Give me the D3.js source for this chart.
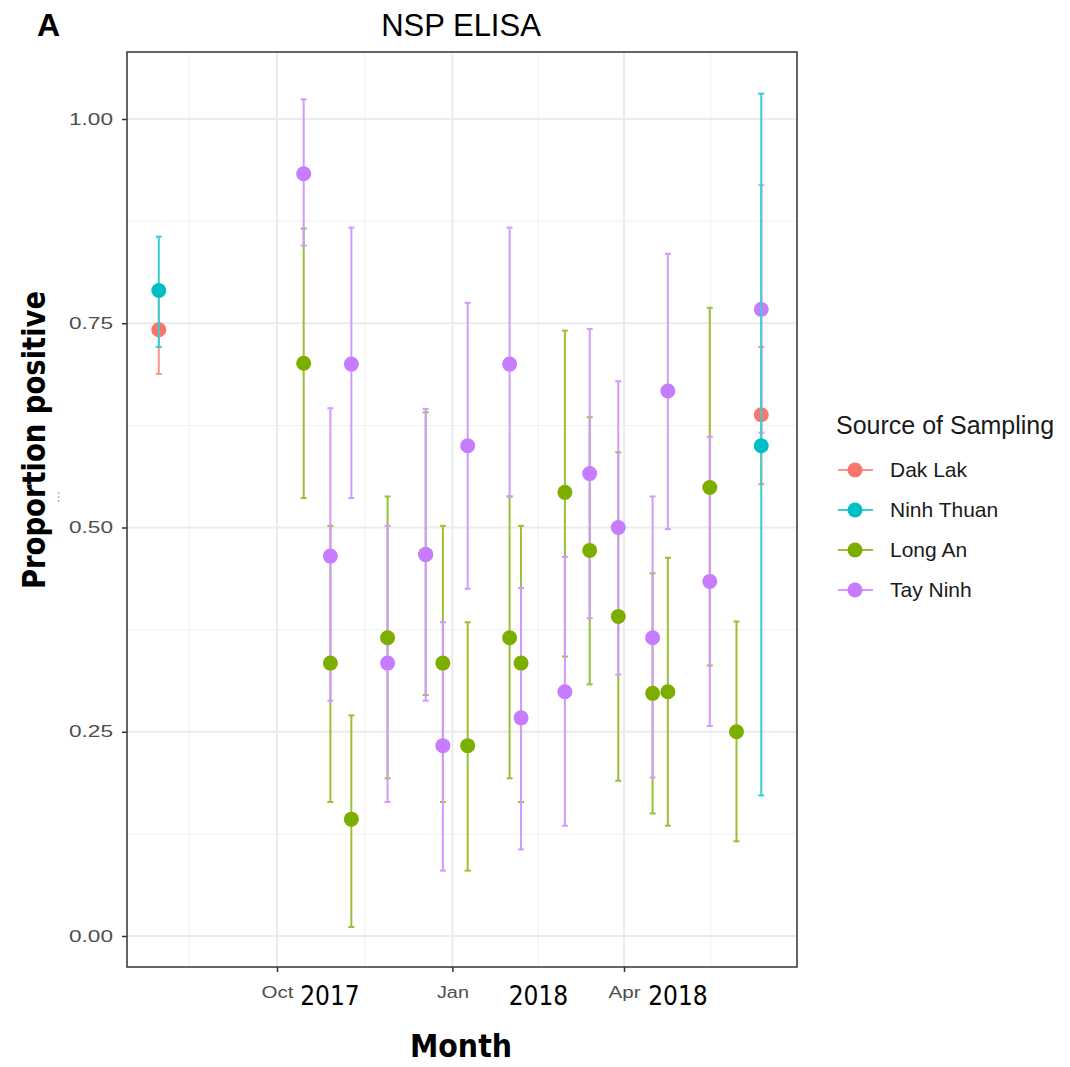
<!DOCTYPE html>
<html>
<head>
<meta charset="utf-8">
<script src="https://cdn.jsdelivr.net/npm/d3@7"></script>
<style>
  body { margin: 0; background: #fff; }
  text { font-family: "Liberation Sans", Arial, sans-serif; }
</style>
</head>
<body>
<div id="chart"></div>
<script>
// series names and colours (ggplot defaults)
var seriesNames = ["Dak Lak", "Ninh Thuan", "Long An", "Tay Ninh"];
var seriesColors = ["#F8766D", "#00BFC4", "#7CAE00", "#C77CFF"];

// Dak Lak
var dakLakDates = ["2017-07-31", "2018-06-12"];
var dakLakValues = [0.742, 0.638];
var dakLakLower = [0.688, 0.553];
var dakLakUpper = [0.79, 0.721];

// Ninh Thuan
var ninhThuanDates = ["2017-07-31", "2018-06-12"];
var ninhThuanValues = [0.790, 0.600];
var ninhThuanLower = [0.721, 0.172];
var ninhThuanUpper = [0.856, 1.031];

// Long An
var longAnDates = ["2017-10-15", "2017-10-29", "2017-11-09", "2017-11-28", "2017-12-18", "2017-12-27",
  "2018-01-09", "2018-01-31", "2018-02-06", "2018-03-01", "2018-03-14", "2018-03-29",
  "2018-04-16", "2018-04-24", "2018-05-16", "2018-05-30"];
var longAnValues = [0.701, 0.334, 0.143, 0.365, 0.467, 0.334, 0.233, 0.365, 0.334, 0.543, 0.472, 0.391,
  0.297, 0.299, 0.549, 0.250];
var longAnLower = [0.536, 0.164, 0.011, 0.193, 0.295, 0.164, 0.080, 0.193, 0.164, 0.342, 0.308, 0.190,
  0.150, 0.135, 0.331, 0.116];
var longAnUpper = [0.866, 0.502, 0.270, 0.538, 0.641, 0.502, 0.384, 0.538, 0.502, 0.741, 0.635, 0.592,
  0.444, 0.463, 0.769, 0.385];

// Tay Ninh
var tayNinhDates = ["2017-10-15", "2017-10-29", "2017-11-09", "2017-11-28", "2017-12-18", "2017-12-27",
  "2018-01-09", "2018-01-31", "2018-02-06", "2018-03-01", "2018-03-14", "2018-03-29",
  "2018-04-16", "2018-04-24", "2018-05-16", "2018-06-12"];
var tayNinhValues = [0.933, 0.465, 0.700, 0.334, 0.467, 0.233, 0.600, 0.700, 0.267, 0.299, 0.566, 0.500,
  0.365, 0.667, 0.434, 0.767];
var tayNinhLower = [0.845, 0.288, 0.536, 0.164, 0.288, 0.080, 0.425, 0.538, 0.106, 0.135, 0.389, 0.320,
  0.194, 0.498, 0.257, 0.616];
var tayNinhUpper = [1.024, 0.646, 0.867, 0.502, 0.645, 0.384, 0.775, 0.867, 0.426, 0.464, 0.743, 0.679,
  0.538, 0.835, 0.611, 0.919];

// axis ticks
var xTickDates = ["2017-10-01", "2018-01-01", "2018-04-01"];
var xTickLabels = ["Oct", "Jan", "Apr"];
var xYearLabels = ["2017", "2018", "2018"];
var quarterDates = ["2017-07-01", "2017-10-01", "2018-01-01", "2018-04-01", "2018-07-01"];
var yTicks = [0, 0.25, 0.5, 0.75, 1];
var yTickLabels = ["0.00", "0.25", "0.50", "0.75", "1.00"];

var parseDate = d3.timeParse("%Y-%m-%d");

function buildSeries(name, dates, values, lower, upper) {
  return dates.map(function(d, i) {
    return { name: name, date: parseDate(d), value: values[i], lower: lower[i], upper: upper[i] };
  });
}

var data = {
  "Dak Lak": buildSeries("Dak Lak", dakLakDates, dakLakValues, dakLakLower, dakLakUpper),
  "Ninh Thuan": buildSeries("Ninh Thuan", ninhThuanDates, ninhThuanValues, ninhThuanLower, ninhThuanUpper),
  "Long An": buildSeries("Long An", longAnDates, longAnValues, longAnLower, longAnUpper),
  "Tay Ninh": buildSeries("Tay Ninh", tayNinhDates, tayNinhValues, tayNinhLower, tayNinhUpper)
};

var color = d3.scaleOrdinal().domain(seriesNames).range(seriesColors);
// error bars look a bit washed out in the original
var barColor = d => d3.interpolateRgb(color(d), "#fff")(0.22);

var svgWidth = 1070;
var svgHeight = 1067;

// panel box
var panel = { left: 127, right: 797, top: 52, bottom: 967 };

var svg = d3.select("#chart")
  .append("svg")
  .attr("width", svgWidth)
  .attr("height", svgHeight);

// scales
var xScale = d3.scaleTime()
  .domain([parseDate("2017-10-01"), parseDate("2018-04-01")])
  .range([277, 624]);

var yScale = d3.scaleLinear()
  .domain([0, 1])
  .range([936, 119]);

// gridlines
var gridGroup = svg.append("g");

var yMinor = yTicks.slice(0, -1).map(function(t, i) { return (t + yTicks[i + 1]) / 2; });
var qd = quarterDates.map(parseDate);
var xMinor = qd.slice(0, -1).map(function(d, i) { return new Date((d.getTime() + qd[i + 1].getTime()) / 2); });

gridGroup.selectAll(".yminor").data(yMinor).enter().append("line")
  .attr("x1", panel.left).attr("x2", panel.right)
  .attr("y1", d => yScale(d)).attr("y2", d => yScale(d))
  .attr("stroke", "#f0f0f0").attr("stroke-width", 1);

gridGroup.selectAll(".xminor").data(xMinor).enter().append("line")
  .attr("y1", panel.top).attr("y2", panel.bottom)
  .attr("x1", d => xScale(d)).attr("x2", d => xScale(d))
  .attr("stroke", "#f0f0f0").attr("stroke-width", 1);

gridGroup.selectAll(".ymajor").data(yTicks).enter().append("line")
  .attr("x1", panel.left).attr("x2", panel.right)
  .attr("y1", d => yScale(d)).attr("y2", d => yScale(d))
  .attr("stroke", "#ebebeb").attr("stroke-width", 2);

gridGroup.selectAll(".xmajor").data(xTickDates.map(parseDate)).enter().append("line")
  .attr("y1", panel.top).attr("y2", panel.bottom)
  .attr("x1", d => xScale(d)).attr("x2", d => xScale(d))
  .attr("stroke", "#ebebeb").attr("stroke-width", 2);

// error bars + points
function drawErrorBars(g, rows) {
  var c = barColor(rows[0].name);
  var bars = g.selectAll(null).data(rows).enter().append("g")
    .attr("stroke", c).attr("stroke-width", 2);
  bars.append("line")
    .attr("x1", d => xScale(d.date)).attr("x2", d => xScale(d.date))
    .attr("y1", d => yScale(d.lower)).attr("y2", d => yScale(d.upper));
  bars.append("line")
    .attr("x1", d => xScale(d.date) - 3).attr("x2", d => xScale(d.date) + 3)
    .attr("y1", d => yScale(d.lower)).attr("y2", d => yScale(d.lower));
  bars.append("line")
    .attr("x1", d => xScale(d.date) - 3).attr("x2", d => xScale(d.date) + 3)
    .attr("y1", d => yScale(d.upper)).attr("y2", d => yScale(d.upper));
}

function drawPoints(g, rows) {
  g.selectAll(null).data(rows).enter().append("circle")
    .attr("cx", d => xScale(d.date))
    .attr("cy", d => yScale(d.value))
    .attr("r", 7.5)
    .attr("fill", d => color(d.name));
}

var marks = svg.append("g");
["Dak Lak", "Long An", "Tay Ninh"].forEach(function(n) { drawErrorBars(marks, data[n]); });
["Dak Lak", "Long An", "Tay Ninh"].forEach(function(n) { drawPoints(marks, data[n]); });
drawErrorBars(marks, data["Ninh Thuan"]);
drawPoints(marks, data["Ninh Thuan"]);

// panel border
svg.append("rect")
  .attr("x", panel.left).attr("y", panel.top)
  .attr("width", panel.right - panel.left).attr("height", panel.bottom - panel.top)
  .attr("fill", "none").attr("stroke", "#333").attr("stroke-width", 1.5);

// axes
var leftAxis = d3.axisLeft(yScale)
  .tickValues(yTicks)
  .tickFormat((d, i) => yTickLabels[i])
  .tickSize(5).tickPadding(9);

var yAxisG = svg.append("g")
  .attr("transform", `translate(${panel.left}, 0)`)
  .call(leftAxis);
yAxisG.select(".domain").remove();
yAxisG.selectAll(".tick line").attr("stroke", "#333").attr("stroke-width", 1.5);
yAxisG.selectAll(".tick text")
  .attr("fill", "#4d4d4d").attr("font-size", 16)
  .attr("textLength", 44)
  .attr("lengthAdjust", "spacingAndGlyphs")
  .style("font-family", "'Liberation Sans', Arial, sans-serif");

var bottomAxis = d3.axisBottom(xScale)
  .tickValues(xTickDates.map(parseDate))
  .tickFormat((d, i) => xTickLabels[i])
  .tickSize(5).tickPadding(15);

var xAxisG = svg.append("g")
  .attr("transform", `translate(0, ${panel.bottom})`)
  .call(bottomAxis);
xAxisG.select(".domain").remove();
xAxisG.selectAll(".tick line").attr("stroke", "#333").attr("stroke-width", 1.5);
xAxisG.selectAll(".tick text")
  .attr("fill", "#4d4d4d").attr("font-size", 16)
  .attr("textLength", 32)
  .attr("lengthAdjust", "spacingAndGlyphs")
  .style("font-family", "'Liberation Sans', Arial, sans-serif");

// year labels pasted next to the month ticks
var yearOffsets = [53, 86, 54];
svg.selectAll(".year").data(xTickDates).enter().append("text")
  .attr("x", (d, i) => xScale(parseDate(d)) + yearOffsets[i])
  .attr("y", 1005)
  .attr("text-anchor", "middle")
  .attr("font-size", 26)
  .attr("fill", "#000")
  .style("font-family", "'Liberation Sans Narrow', 'DejaVu Sans Condensed', sans-serif")
  .text((d, i) => xYearLabels[i]);

// titles
svg.append("text")
  .attr("x", 461).attr("y", 36)
  .attr("text-anchor", "middle")
  .attr("font-size", 31)
  .attr("fill", "#000")
  .text("NSP ELISA");

svg.append("text")
  .attr("x", 37).attr("y", 36)
  .attr("font-size", 32)
  .attr("font-weight", "bold")
  .attr("fill", "#000")
  .text("A");

svg.append("text")
  .attr("x", 461).attr("y", 1057)
  .attr("text-anchor", "middle")
  .attr("font-size", 32)
  .attr("font-weight", "bold")
  .attr("textLength", 102)
  .attr("lengthAdjust", "spacingAndGlyphs")
  .style("font-family", "'Liberation Sans Narrow', 'DejaVu Sans Condensed', sans-serif")
  .text("Month");

svg.append("text")
  .attr("transform", "translate(45, 440) rotate(-90)")
  .attr("text-anchor", "middle")
  .attr("font-size", 32)
  .attr("font-weight", "bold")
  .attr("textLength", 298)
  .attr("lengthAdjust", "spacingAndGlyphs")
  .style("font-family", "'Liberation Sans Narrow', 'DejaVu Sans Condensed', sans-serif")
  .text("Proportion positive");

// leftover of the original axis title
svg.append("text")
  .attr("transform", "translate(62, 497) rotate(-90)")
  .attr("text-anchor", "middle")
  .attr("font-size", 12)
  .attr("fill", "#777")
  .text("···");

// legend
var legend = svg.append("g").attr("transform", "translate(836, 0)");

legend.append("text")
  .attr("x", 0).attr("y", 434)
  .attr("font-size", 25)
  .attr("fill", "#1a1a1a")
  .text("Source of Sampling");

var items = legend.selectAll(".item").data(seriesNames).enter().append("g")
  .attr("transform", (d, i) => `translate(0, ${470 + i * 40})`);

items.append("line")
  .attr("x1", 2).attr("x2", 37)
  .attr("stroke", d => barColor(d)).attr("stroke-width", 2);

items.append("circle")
  .attr("cx", 19).attr("r", 7.5)
  .attr("fill", d => color(d));

items.append("text")
  .attr("x", 54).attr("y", 7)
  .attr("font-size", 21)
  .attr("fill", "#1a1a1a")
  .text(d => d);
</script>
</body>
</html>
